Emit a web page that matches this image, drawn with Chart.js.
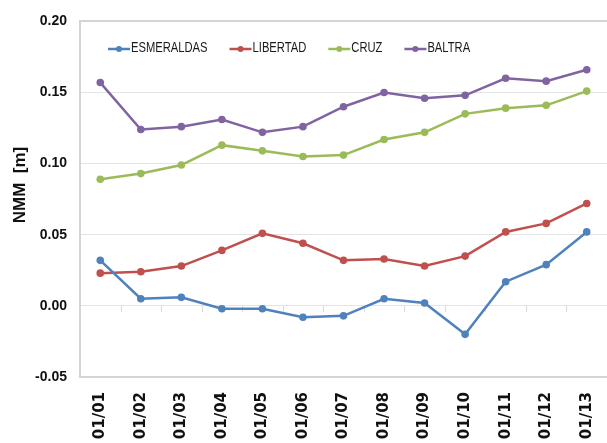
<!DOCTYPE html>
<html><head><meta charset="utf-8">
<script src="https://cdn.jsdelivr.net/npm/chart.js@4.4.1/dist/chart.umd.min.js"></script>
<style>html,body{margin:0;padding:0;background:#fff;overflow:hidden;}canvas{display:block;}</style>
</head><body>
<canvas id="c" width="611" height="443"></canvas>
<script>
const categories = ['01/01','01/02','01/03','01/04','01/05','01/06','01/07','01/08','01/09','01/10','01/11','01/12','01/13'];
const seriesNames = ['ESMERALDAS','LIBERTAD','CRUZ','BALTRA'];
const esmeraldas = [0.032, 0.005, 0.006, -0.002, -0.002, -0.008, -0.007, 0.005, 0.002, -0.020, 0.017, 0.029, 0.052];
const libertad   = [0.023, 0.024, 0.028, 0.039, 0.051, 0.044, 0.032, 0.033, 0.028, 0.035, 0.052, 0.058, 0.072];
const cruz       = [0.089, 0.093, 0.099, 0.113, 0.109, 0.105, 0.106, 0.117, 0.122, 0.135, 0.139, 0.141, 0.151];
const baltra     = [0.157, 0.124, 0.126, 0.131, 0.122, 0.126, 0.140, 0.150, 0.146, 0.148, 0.160, 0.158, 0.166];
const yMin = -0.05, yMax = 0.20, yStep = 0.05;
const axisTitle = 'NMM  [m]';

const seriesColors = ['#4F81BD','#C0504D','#9BBB59','#8064A2'];
const seriesValues = [esmeraldas, libertad, cruz, baltra];

const insideLegend = {
  id: 'insideLegend',
  afterDraw(chart) {
    const ctx = chart.ctx, area = chart.chartArea;
    const squeeze = 0.8;
    ctx.save();
    ctx.font = '14px "Liberation Sans", sans-serif';
    ctx.textBaseline = 'middle';
    let x = area.left + 28;
    const y = 49;
    chart.data.datasets.forEach(ds => {
      ctx.strokeStyle = ds.borderColor; ctx.lineWidth = 2.5;
      ctx.beginPath(); ctx.moveTo(x, y); ctx.lineTo(x + 22, y); ctx.stroke();
      ctx.fillStyle = ds.borderColor;
      ctx.beginPath(); ctx.arc(x + 11, y, 3, 0, Math.PI * 2); ctx.fill();
      ctx.fillStyle = '#1a1a1a';
      ctx.save();
      ctx.translate(x + 23, y - 1);
      ctx.scale(squeeze, 1);
      ctx.fillText(ds.label, 0, 0);
      ctx.restore();
      x += 23 + ctx.measureText(ds.label).width * squeeze + 22;
    });
    ctx.restore();
  }
};

const zeroTicks = {
  id: 'zeroTicks',
  beforeDatasetsDraw(chart) {
    const xs = chart.scales.x, ys = chart.scales.y, ctx = chart.ctx;
    const y0 = ys.getPixelForValue(0);
    ctx.save();
    ctx.strokeStyle = '#D9D9D9'; ctx.lineWidth = 1;
    for (let i = 1; i < categories.length; i++) {
      const x = Math.round((xs.getPixelForValue(i - 1) + xs.getPixelForValue(i)) / 2) + 0.5;
      ctx.beginPath(); ctx.moveTo(x, y0); ctx.lineTo(x, y0 + 6); ctx.stroke();
    }
    ctx.restore();
  }
};

const isEdge = v => Math.abs(v - yMax) < 1e-9 || Math.abs(v - yMin) < 1e-9;

new Chart(document.getElementById('c'), {
  type: 'line',
  data: {
    labels: categories,
    datasets: seriesNames.map((name, i) => ({
      label: name,
      data: seriesValues[i],
      borderColor: seriesColors[i],
      backgroundColor: seriesColors[i],
      borderWidth: 2.5,
      pointRadius: 3.8,
      pointBorderWidth: 0,
      pointBackgroundColor: seriesColors[i],
      tension: 0,
      fill: false
    }))
  },
  options: {
    responsive: false,
    animation: false,
    layout: { padding: { left: 0, right: 0, top: 17, bottom: 0 } },
    plugins: { legend: { display: false }, tooltip: { enabled: false } },
    scales: {
      x: {
        offset: true,
        grid: { display: false, drawTicks: false },
        border: { display: true, color: '#D4D4D4', width: 2 },
        ticks: {
          minRotation: 90, maxRotation: 90, padding: 15, color: '#111',
          font: { family: '"DejaVu Sans"', weight: 'bold', size: 15 }
        },
        afterFit(s) { s.height = 66; s.paddingRight = 0; s.paddingLeft = 0; }
      },
      y: {
        min: yMin, max: yMax,
        grid: {
          drawTicks: false,
          color: c => isEdge(c.tick.value) ? '#D4D4D4' : '#E4E4E4',
          lineWidth: c => isEdge(c.tick.value) ? 2 : 1
        },
        border: { display: true, color: '#D4D4D4', width: 2 },
        ticks: {
          stepSize: yStep, padding: 13, color: '#111',
          font: { family: '"Liberation Sans"', weight: 'bold', size: 14 },
          callback: v => v.toFixed(2)
        },
        title: {
          display: true, text: '      ' + axisTitle, color: '#111',
          padding: { top: 10, bottom: 0 },
          font: { family: '"Liberation Sans"', weight: 'bold', size: 17 }
        },
        afterFit(s) { s.width = 80; }
      }
    }
  },
  plugins: [zeroTicks, insideLegend]
});
</script>
</body></html>
